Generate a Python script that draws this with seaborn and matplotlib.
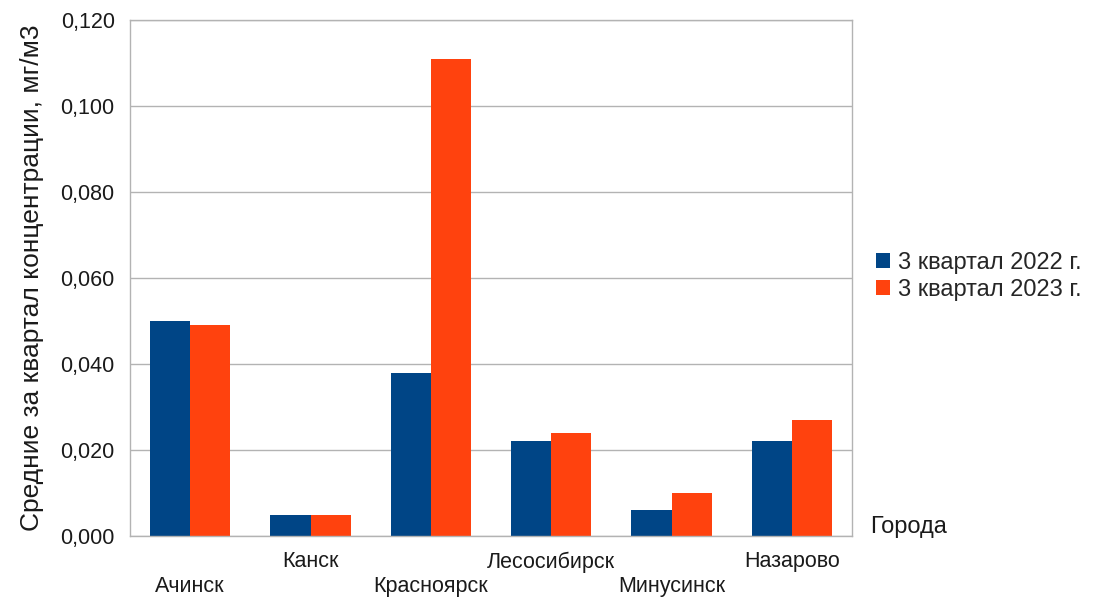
import matplotlib
matplotlib.use("Agg")
import matplotlib.pyplot as plt
from matplotlib.ticker import FuncFormatter, FixedLocator
from matplotlib.patches import Patch
import pandas as pd
import seaborn as sns

cities = ["Ачинск", "Канск", "Красноярск", "Лесосибирск", "Минусинск", "Назарово"]
series_names = ["3 квартал 2022 г.", "3 квартал 2023 г."]
values_2022 = [0.050, 0.005, 0.038, 0.022, 0.006, 0.022]
values_2023 = [0.049, 0.005, 0.111, 0.024, 0.010, 0.027]
colors = ["#004586", "#ff420e"]
y_ticks = [0.0, 0.02, 0.04, 0.06, 0.08, 0.10, 0.12]

df = pd.DataFrame({
    "city": cities * 2,
    "series": [series_names[0]] * len(cities) + [series_names[1]] * len(cities),
    "value": values_2022 + values_2023,
})

sns.set_style("white")
plt.rcParams["font.family"] = ["Liberation Sans", "DejaVu Sans"]
grid_c = "#b3b3b3"
txt_c = "#1a1a1a"

fig = plt.figure(figsize=(10.93, 5.99), dpi=100)
ax = fig.add_axes([130 / 1093, 63 / 599, 722 / 1093, 516 / 599])

sns.barplot(data=df, x="city", y="value", hue="series", palette=colors,
            width=2 / 3, gap=0, saturation=1, linewidth=0, legend=False, ax=ax)

ax.set_xlim(-0.5, len(cities) - 0.5)
ax.set_ylim(0, 0.12)
ax.set_yticks(y_ticks)
ax.yaxis.set_major_formatter(FuncFormatter(lambda v, p: f"{v:.3f}".replace(".", ",")))
ax.grid(axis="y", color=grid_c, linewidth=1)
ax.set_axisbelow(True)
for s in ax.spines.values():
    s.set_color(grid_c)
    s.set_linewidth(1)

ax.tick_params(axis="y", length=7, color=grid_c, width=1, labelsize=15.5, pad=4, labelcolor=txt_c)
ax.set_xticks(range(len(cities)))
ax.set_xticklabels(cities)
ax.tick_params(axis="x", which="major", length=0, labelsize=15.5, labelcolor=txt_c)
ax.xaxis.set_minor_locator(FixedLocator([i - 0.5 for i in range(len(cities) + 1)]))
ax.tick_params(axis="x", which="minor", length=7, color=grid_c, width=1)
for i, tick in enumerate(ax.xaxis.get_major_ticks()):
    tick.set_pad(29 if i % 2 == 0 else 11)

ax.set_xlabel("")
ax.set_ylabel("Средние за квартал концентрации, мг/м3", fontsize=19, color=txt_c, labelpad=12)

handles = [Patch(facecolor=c, edgecolor="none") for c in colors]
fig.legend(handles, series_names, loc="upper left", bbox_to_anchor=(864 / 1093, 1 - 240 / 599),
           frameon=False, fontsize=17, handlelength=0.6, handleheight=0.6,
           handletextpad=0.35, labelspacing=0.2, borderpad=0)
fig.text(870 / 1093, 1 - 527 / 599, "Города", fontsize=17, va="center", ha="left", color=txt_c)

fig.savefig("out.png", dpi=100)
